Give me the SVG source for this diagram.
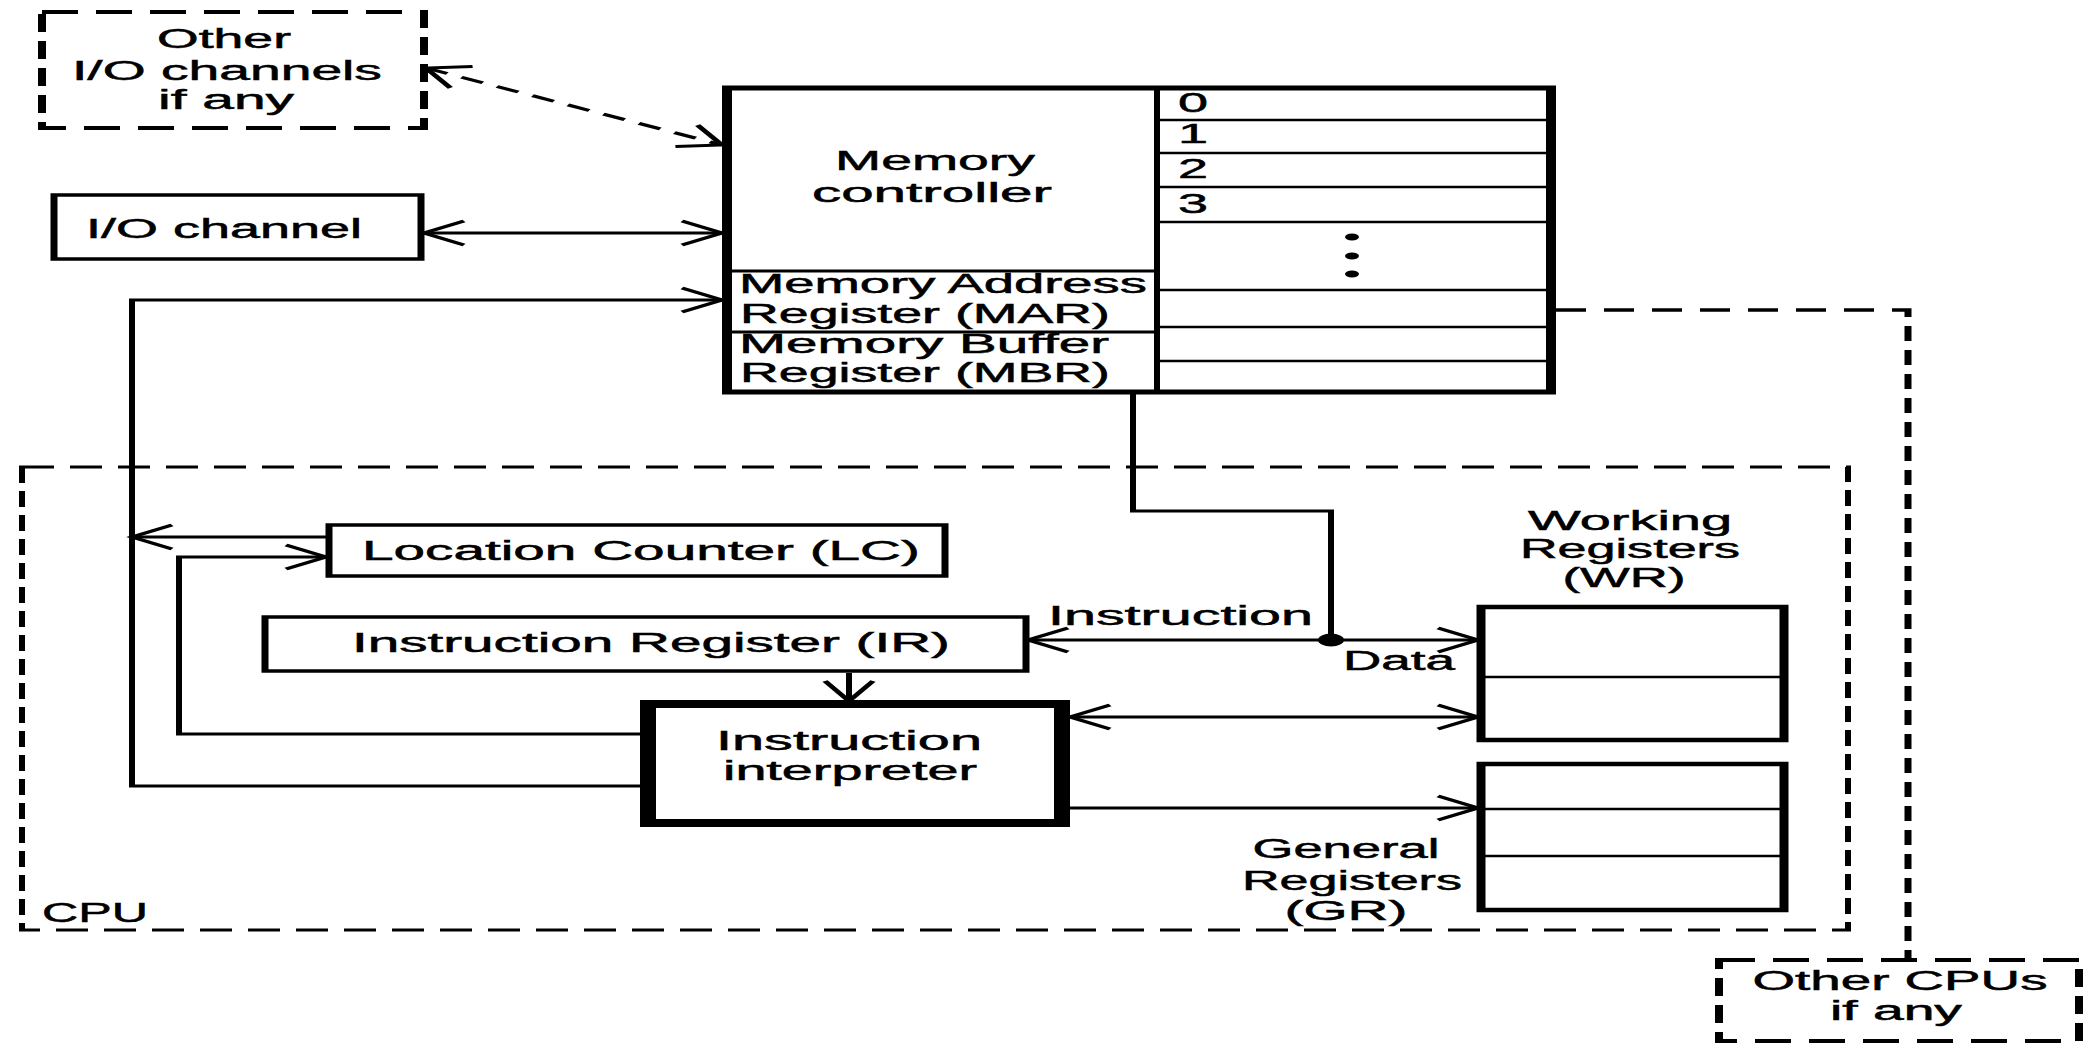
<svg xmlns="http://www.w3.org/2000/svg" width="2100" height="1045" viewBox="0 0 2100 1045">
<style>
.box{fill:#fff;stroke:#000;stroke-width:3.5}
.mem{stroke-width:5}
.thick{stroke-width:8}
.reg{stroke-width:4.5}
.dbox{fill:#fff;stroke:#000;stroke-width:4;stroke-dasharray:18 9}
.cpu{fill:none;stroke:#000;stroke-width:3;stroke-dasharray:16 8}
.ln{stroke:#000;stroke-width:3;fill:none}
.row{stroke:#000;stroke-width:2.5;fill:none}
.t{font-family:"Liberation Sans",Arial,Helvetica,sans-serif;font-size:27px;fill:#000;stroke:#000;stroke-width:0.5}
.c{text-anchor:middle}
.wire{fill:none;stroke:#000;stroke-width:3}
.dw{stroke-dasharray:12 8}
.dl{stroke-dasharray:15 9;stroke-width:3.5}
.dot{fill:#000}
</style>
<defs>
<marker id="ah" markerUnits="userSpaceOnUse" markerWidth="30" markerHeight="30" refX="0" refY="0" viewBox="-22 -15 30 30" orient="auto-start-reverse" overflow="visible">
<path d="M-20,-12 L0,0 L-20,12" fill="none" stroke="#000" stroke-width="3"/>
</marker>
</defs>
<rect width="2100" height="1045" fill="#fff"/>
<g transform="scale(2,1)">
<g id="cpu">
<rect class="cpu" x="11" y="467" width="913" height="463"/>
<text class="t" x="21" y="922" textLength="53" lengthAdjust="spacingAndGlyphs">CPU</text>
</g>
<g id="other-io">
<rect class="dbox" x="21" y="12" width="191" height="116"/>
<text class="t c" x="112" y="48" textLength="67" lengthAdjust="spacingAndGlyphs">Other</text>
<text class="t c" x="113.5" y="80" textLength="155" lengthAdjust="spacingAndGlyphs">I/O channels</text>
<text class="t c" x="113" y="109" textLength="68" lengthAdjust="spacingAndGlyphs">if any</text>
</g>
<g id="io-channel">
<rect class="box" x="27" y="195" width="183.5" height="64"/>
<text class="t c" x="112" y="238" textLength="138" lengthAdjust="spacingAndGlyphs">I/O channel</text>
</g>
<g id="memory">
<rect class="box mem" x="363.5" y="88" width="412" height="304"/>
<line class="ln" x1="578.5" y1="88" x2="578.5" y2="392"/>
<line class="ln" x1="363.5" y1="271" x2="578.5" y2="271"/>
<line class="ln" x1="363.5" y1="332" x2="578.5" y2="332"/>
<path class="row" d="M578.5,120H775.5M578.5,153H775.5M578.5,187H775.5M578.5,222H775.5M578.5,290H775.5M578.5,327H775.5M578.5,361H775.5"/>
<text class="t c" x="467.5" y="170" textLength="100" lengthAdjust="spacingAndGlyphs">Memory</text>
<text class="t c" x="466" y="202" textLength="120" lengthAdjust="spacingAndGlyphs">controller</text>
<text class="t" x="369.5" y="293" textLength="204" lengthAdjust="spacingAndGlyphs">Memory Address</text>
<text class="t" x="370" y="323" textLength="185" lengthAdjust="spacingAndGlyphs">Register (MAR)</text>
<text class="t" x="369.5" y="353" textLength="185" lengthAdjust="spacingAndGlyphs">Memory Buffer</text>
<text class="t" x="370" y="382" textLength="185" lengthAdjust="spacingAndGlyphs">Register (MBR)</text>
<text class="t" x="589" y="112">0</text>
<text class="t" x="589" y="143">1</text>
<text class="t" x="589" y="178">2</text>
<text class="t" x="589" y="213">3</text>
<circle class="dot" cx="676" cy="237" r="3.5"/>
<circle class="dot" cx="676" cy="256" r="3.5"/>
<circle class="dot" cx="676" cy="274" r="3.5"/>
</g>
<g id="lc">
<rect class="box" x="164.5" y="525" width="308" height="51"/>
<text class="t" x="181" y="560" textLength="279" lengthAdjust="spacingAndGlyphs">Location Counter (LC)</text>
</g>
<g id="ir">
<rect class="box" x="132.5" y="617" width="380.5" height="54"/>
<text class="t" x="176" y="652" textLength="299" lengthAdjust="spacingAndGlyphs">Instruction Register (IR)</text>
</g>
<g id="interpreter">
<rect class="box thick" x="324" y="704" width="207" height="119"/>
<text class="t c" x="424.5" y="750" textLength="133" lengthAdjust="spacingAndGlyphs">Instruction</text>
<text class="t c" x="425" y="780" textLength="127" lengthAdjust="spacingAndGlyphs">interpreter</text>
</g>
<g id="wr">
<rect class="box reg" x="740.5" y="607" width="151.5" height="133"/>
<line class="row" x1="740.5" y1="677" x2="892" y2="677"/>
<text class="t c" x="815" y="530" textLength="102" lengthAdjust="spacingAndGlyphs">Working</text>
<text class="t c" x="815" y="558" textLength="110" lengthAdjust="spacingAndGlyphs">Registers</text>
<text class="t c" x="812" y="587" textLength="61.5" lengthAdjust="spacingAndGlyphs">(WR)</text>
</g>
<g id="gr">
<rect class="box reg" x="740.5" y="764" width="151.5" height="146"/>
<path class="row" d="M740.5,809H892M740.5,856H892"/>
<text class="t c" x="673" y="858" textLength="93.5" lengthAdjust="spacingAndGlyphs">General</text>
<text class="t c" x="676" y="890" textLength="110" lengthAdjust="spacingAndGlyphs">Registers</text>
<text class="t c" x="673" y="920" textLength="61.5" lengthAdjust="spacingAndGlyphs">(GR)</text>
</g>
<g id="other-cpus">
<rect class="dbox" x="859.5" y="960" width="180" height="81"/>
<text class="t c" x="950" y="990" textLength="147.5" lengthAdjust="spacingAndGlyphs">Other CPUs</text>
<text class="t c" x="948" y="1020" textLength="66" lengthAdjust="spacingAndGlyphs">if any</text>
</g>
<g id="connectors">
<path class="wire dw" d="M213,68 L361,145" marker-start="url(#ah)" marker-end="url(#ah)"/>
<path class="wire" d="M212,233 H361" marker-start="url(#ah)" marker-end="url(#ah)"/>
<path class="wire" d="M320,786 H66 V300 H361" marker-end="url(#ah)"/>
<path class="wire" d="M163,537 H66" marker-end="url(#ah)"/>
<path class="wire" d="M320,734 H89.5 V557 H163" marker-end="url(#ah)"/>
<path class="wire" d="M424.5,673 V701" marker-end="url(#ah)"/>
<path class="wire" d="M566.5,394 V511 H665.5 V640"/>
<path class="wire" d="M514,640 H739" marker-start="url(#ah)" marker-end="url(#ah)"/>
<circle class="dot" cx="665.5" cy="640" r="6.5"/>
<text class="t" x="524" y="625" textLength="132.5" lengthAdjust="spacingAndGlyphs">Instruction</text>
<text class="t" x="671.5" y="670" textLength="56" lengthAdjust="spacingAndGlyphs">Data</text>
<path class="wire" d="M535,717 H739" marker-start="url(#ah)" marker-end="url(#ah)"/>
<path class="wire" d="M535,808 H739" marker-end="url(#ah)"/>
<path class="wire dl" d="M778,310 H954 V958"/>
</g>
</g>
</svg>
